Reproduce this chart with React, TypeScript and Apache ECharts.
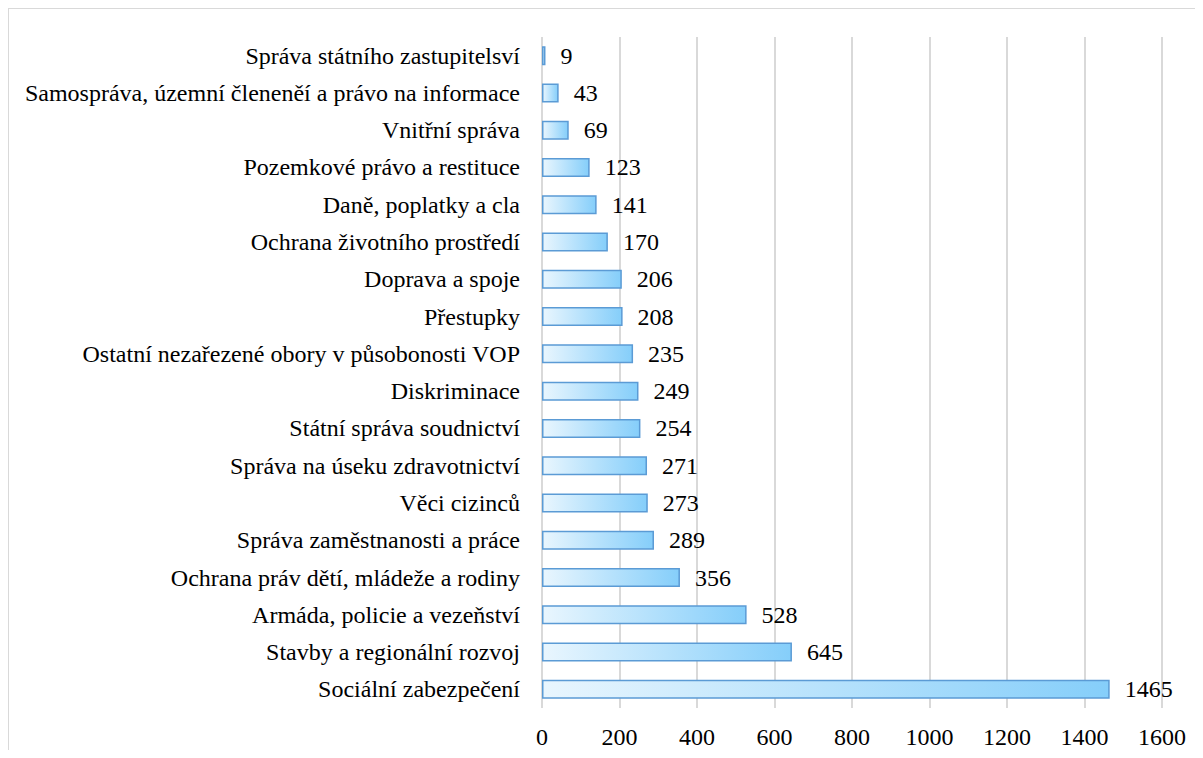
import React, { useEffect, useRef } from "react";
import * as echarts from "echarts";

const categories = [
  "Sociální zabezpečení",
  "Stavby a regionální rozvoj",
  "Armáda, policie a vezeňství",
  "Ochrana práv dětí, mládeže a rodiny",
  "Správa zaměstnanosti a práce",
  "Věci cizinců",
  "Správa na úseku zdravotnictví",
  "Státní správa soudnictví",
  "Diskriminace",
  "Ostatní nezařezené obory v působonosti VOP",
  "Přestupky",
  "Doprava a spoje",
  "Ochrana životního prostředí",
  "Daně, poplatky a cla",
  "Pozemkové právo a restituce",
  "Vnitřní správa",
  "Samospráva, územní členeněí a právo na informace",
  "Správa státního zastupitelsví",
];
const values = [1465, 645, 528, 356, 289, 273, 271, 254, 249, 235, 208, 206, 170, 141, 123, 69, 43, 9];
const xTicks = { min: 0, max: 1600, interval: 200 };

const FONT = "Liberation Serif";

export default function App() {
  const ref = useRef<HTMLDivElement>(null);
  useEffect(() => {
    if (!ref.current) return;
    const chart = echarts.init(ref.current, null, { renderer: "svg" });
    const textCommon = { color: "#000", fontSize: 24, fontFamily: FONT };
    chart.setOption({
      animation: false,
      textStyle: { fontFamily: FONT, fontSize: 24 },
      grid: { left: 533, right: 33, top: 28, bottom: 42 },
      xAxis: {
        type: "value",
        min: xTicks.min,
        max: xTicks.max,
        interval: xTicks.interval,
        axisLine: { show: false },
        axisTick: { show: false },
        axisLabel: { ...textCommon, margin: 17, formatter: (v: number) => String(v) },
        splitLine: { show: true, lineStyle: { color: "#d9d9d9", width: 2 } },
      },
      yAxis: {
        type: "category",
        data: categories,
        axisLine: { show: false },
        axisTick: { show: false },
        axisLabel: { ...textCommon, margin: 22 },
      },
      series: [
        {
          type: "bar",
          data: values,
          barWidth: 19,
          itemStyle: {
            color: new echarts.graphic.LinearGradient(0, 0, 1, 0, [
              { offset: 0, color: "#e9f6fe" },
              { offset: 1, color: "#85cefa" },
            ]),
            borderColor: "#5b9bd5",
            borderWidth: 1.5,
          },
          label: { show: true, position: "right", distance: 15, ...textCommon },
        },
      ],
    });
    return () => chart.dispose();
  }, []);
  return (
    <div style={{ width: 1186, height: 741, borderTop: "1px solid #d9d9d9", borderLeft: "1px solid #d9d9d9" }}>
      <style>{`.chart-root svg text { font-family: "Liberation Serif", "Times New Roman", serif !important; }`}</style>
      <div className="chart-root" ref={ref} style={{ width: 1186, height: 741 }} />
    </div>
  );
}
